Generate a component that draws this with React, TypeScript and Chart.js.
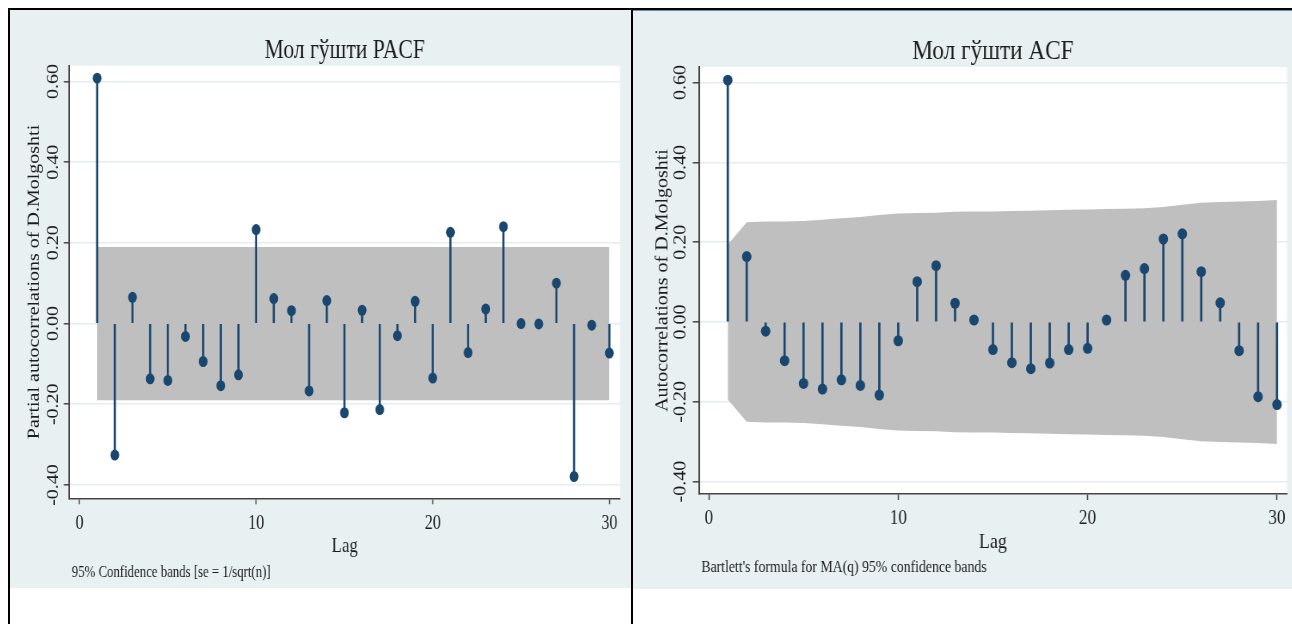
import React, { useEffect, useRef } from 'react';
import { Chart, registerables } from 'chart.js';

Chart.register(...registerables);

// ---------- data ----------
const lags = [1, 2, 3, 4, 5, 6, 7, 8, 9, 10, 11, 12, 13, 14, 15, 16, 17, 18, 19, 20, 21, 22, 23, 24, 25, 26, 27, 28, 29, 30];

const pacfValues = [0.608, -0.326, 0.065, -0.137, -0.141, -0.032, -0.094, -0.154, -0.127, 0.233, 0.062, 0.032, -0.167, 0.057, -0.221, 0.033, -0.213, -0.030, 0.055, -0.135, 0.226, -0.072, 0.036, 0.240, 0.000, -0.001, 0.100, -0.379, -0.004, -0.073];
const pacfBandUpper = [0.19, 0.19, 0.19, 0.19, 0.19, 0.19, 0.19, 0.19, 0.19, 0.19, 0.19, 0.19, 0.19, 0.19, 0.19, 0.19, 0.19, 0.19, 0.19, 0.19, 0.19, 0.19, 0.19, 0.19, 0.19, 0.19, 0.19, 0.19, 0.19, 0.19];
const pacfBandLower = [-0.19, -0.19, -0.19, -0.19, -0.19, -0.19, -0.19, -0.19, -0.19, -0.19, -0.19, -0.19, -0.19, -0.19, -0.19, -0.19, -0.19, -0.19, -0.19, -0.19, -0.19, -0.19, -0.19, -0.19, -0.19, -0.19, -0.19, -0.19, -0.19, -0.19];

const acfValues = [0.606, 0.164, -0.023, -0.097, -0.154, -0.168, -0.145, -0.159, -0.183, -0.047, 0.101, 0.141, 0.047, 0.005, -0.069, -0.102, -0.117, -0.103, -0.069, -0.066, 0.005, 0.117, 0.134, 0.208, 0.221, 0.126, 0.048, -0.072, -0.187, -0.207];
const acfBandUpper = [0.194, 0.250, 0.252, 0.252, 0.253, 0.256, 0.260, 0.263, 0.268, 0.272, 0.273, 0.274, 0.276, 0.277, 0.277, 0.278, 0.279, 0.280, 0.281, 0.282, 0.283, 0.284, 0.285, 0.288, 0.294, 0.299, 0.301, 0.302, 0.303, 0.306];
const acfBandLower = [-0.194, -0.250, -0.252, -0.252, -0.253, -0.256, -0.260, -0.263, -0.268, -0.272, -0.273, -0.274, -0.276, -0.277, -0.277, -0.278, -0.279, -0.280, -0.281, -0.282, -0.283, -0.284, -0.285, -0.288, -0.294, -0.299, -0.301, -0.302, -0.303, -0.306];

const yTicks = [-0.4, -0.2, 0, 0.2, 0.4, 0.6];
const yTickLabels = ['-0.40', '-0.20', '0.00', '0.20', '0.40', '0.60'];
const xTicks = [0, 10, 20, 30];
const xTickLabels = ['0', '10', '20', '30'];

const pacfTitle = 'Мол гўшти PACF';
const acfTitle = 'Мол гўшти ACF';
const pacfYTitle = 'Partial autocorrelations of D.Molgoshti';
const acfYTitle = 'Autocorrelations of D.Molgoshti';
const xTitle = 'Lag';
const pacfNote = '95% Confidence bands [se = 1/sqrt(n)]';
const acfNote = "Bartlett's formula for MA(q) 95% confidence bands";

// ---------- styles ----------
const FONT = "'Liberation Serif', 'DejaVu Serif', serif";
const NAVY = '#1a476f';
const BAND = '#bfbfbf';
const PANEL_BG = '#e8f0f2';
const GRID = '#e4edf0';
const AXIS = '#454545';
const TEXT = '#1c1c1c';

type PanelCfg = {
  left: number;
  width: number;
  height: number;
  compress: number;
  area: { left: number; top: number; right: number; bottom: number };
  xMin: number;
  xMax: number;
  yMin: number;
  yMax: number;
  yTickOffset: number;
  yTitleOffset: number;
  titleY: number;
  lagY: number;
  noteY: number;
  title: string;
  yTitle: string;
  note: string;
  values: number[];
  upper: number[];
  lower: number[];
};

const pacfPanel: PanelCfg = {
  left: 10,
  width: 621,
  height: 578,
  compress: 0.8,
  area: { left: 74.3, top: 55.7, right: 762.5, bottom: 488.3 },
  xMin: -0.57,
  xMax: 30.6,
  yMin: -0.433,
  yMax: 0.639,
  yTickOffset: 19.7,
  yTitleOffset: 43.3,
  titleY: 47.8,
  lagY: 541.8,
  noteY: 567.3,
  title: pacfTitle,
  yTitle: pacfYTitle,
  note: pacfNote,
  values: pacfValues,
  upper: pacfBandUpper,
  lower: pacfBandLower,
};

const acfPanel: PanelCfg = {
  left: 633,
  width: 659,
  height: 579,
  compress: 0.86,
  area: { left: 76.5, top: 57, right: 762.8, bottom: 484 },
  xMin: -0.53,
  xMax: 30.53,
  yMin: -0.431,
  yMax: 0.639,
  yTickOffset: 21,
  yTitleOffset: 42.2,
  titleY: 49,
  lagY: 538,
  noteY: 561.7,
  title: acfTitle,
  yTitle: acfYTitle,
  note: acfNote,
  values: acfValues,
  upper: acfBandUpper,
  lower: acfBandLower,
};

function makeTextPlugin(p: PanelCfg) {
  return {
    id: 'stataText',
    beforeDraw(chart: any) {
      const { ctx, chartArea: a } = chart;
      ctx.save();
      ctx.fillStyle = '#ffffff';
      ctx.fillRect(a.left, a.top, a.right - a.left, a.bottom - a.top);
      ctx.restore();
    },
    afterDraw(chart: any) {
      const { ctx, chartArea: a } = chart;
      const ys = chart.scales.y;
      const cx = (a.left + a.right) / 2;
      ctx.save();
      ctx.fillStyle = TEXT;
      // y tick labels (rotated, Stata style)
      ctx.font = `20px ${FONT}`;
      ys.ticks.forEach((t: any) => {
        const idx = yTicks.indexOf(t.value);
        const label = idx >= 0 ? yTickLabels[idx] : String(t.value);
        const py = ys.getPixelForValue(t.value);
        ctx.save();
        ctx.translate(a.left - p.yTickOffset, py);
        ctx.rotate(-Math.PI / 2);
        ctx.textAlign = 'center';
        ctx.textBaseline = 'middle';
        ctx.fillText(label, 0, 0);
        ctx.restore();
      });
      // y axis title
      ctx.save();
      ctx.font = `20px ${FONT}`;
      ctx.translate(a.left - p.yTitleOffset, (a.top + a.bottom) / 2);
      ctx.rotate(-Math.PI / 2);
      ctx.textAlign = 'center';
      ctx.textBaseline = 'middle';
      ctx.fillText(p.yTitle, 0, 0);
      ctx.restore();
      // title
      ctx.font = `27px ${FONT}`;
      ctx.textAlign = 'center';
      ctx.textBaseline = 'alphabetic';
      ctx.fillText(p.title, cx, p.titleY);
      // x title
      ctx.font = `21px ${FONT}`;
      ctx.fillText(xTitle, cx, p.lagY);
      // note
      ctx.font = `16px ${FONT}`;
      ctx.textAlign = 'left';
      ctx.fillText(p.note, a.left + 3, p.noteY);
      ctx.restore();
    },
  };
}

function AcfPanel({ p }: { p: PanelCfg }) {
  const ref = useRef<HTMLCanvasElement | null>(null);
  const canvasW = Math.round(p.width / p.compress);
  useEffect(() => {
    if (!ref.current) return;
    const chart = new Chart(ref.current, {
      type: 'scatter',
      data: {
        datasets: [
          {
            type: 'line',
            data: lags.map((x, i) => ({ x, y: p.upper[i] })),
            borderColor: 'rgba(0,0,0,0)',
            borderWidth: 0,
            pointRadius: 0,
            fill: '+1',
            backgroundColor: BAND,
            tension: 0,
            order: 3,
          },
          {
            type: 'line',
            data: lags.map((x, i) => ({ x, y: p.lower[i] })),
            borderColor: 'rgba(0,0,0,0)',
            borderWidth: 0,
            pointRadius: 0,
            fill: false,
            tension: 0,
            order: 3,
          },
          {
            type: 'bar',
            data: lags.map((x, i) => ({ x, y: p.values[i] })),
            backgroundColor: NAVY,
            barThickness: 2,
            grouped: false,
            order: 2,
          },
          {
            type: 'scatter',
            data: lags.map((x, i) => ({ x, y: p.values[i] })),
            pointRadius: 5.5,
            pointBackgroundColor: NAVY,
            pointBorderWidth: 0,
            pointBorderColor: NAVY,
            showLine: false,
            clip: false,
            order: 1,
          },
        ] as any,
      },
      options: {
        animation: false,
        responsive: false,
        maintainAspectRatio: false,
        events: [],
        layout: {
          padding: { left: 0, top: p.area.top, right: canvasW - p.area.right, bottom: 0 },
        },
        plugins: {
          legend: { display: false },
          tooltip: { enabled: false },
          title: { display: false },
        },
        scales: {
          x: {
            type: 'linear',
            min: p.xMin,
            max: p.xMax,
            offset: false,
            afterBuildTicks: (s: any) => {
              s.ticks = xTicks.map((v) => ({ value: v }));
            },
            afterFit: (s: any) => {
              s.height = p.height - p.area.bottom;
            },
            grid: {
              offset: false,
              drawOnChartArea: false,
              drawTicks: true,
              tickLength: 6,
              tickColor: AXIS,
              tickWidth: 1.5,
            },
            border: { display: true, color: AXIS, width: 1.5 },
            ticks: {
              autoSkip: false,
              maxRotation: 0,
              minRotation: 0,
              padding: 7,
              color: TEXT,
              font: { family: FONT, size: 20 },
              callback: (_v: any, i: number) => xTickLabels[i],
            },
          },
          y: {
            type: 'linear',
            min: p.yMin,
            max: p.yMax,
            afterBuildTicks: (s: any) => {
              s.ticks = yTicks.map((v) => ({ value: v }));
            },
            afterFit: (s: any) => {
              s.width = p.area.left;
            },
            grid: {
              color: GRID,
              lineWidth: 1.6,
              drawTicks: true,
              tickLength: 7,
              tickColor: AXIS,
              tickWidth: 1.5,
            },
            border: { display: true, color: AXIS, width: 2 },
            ticks: { display: false },
          },
        },
      } as any,
      plugins: [makeTextPlugin(p)],
    });
    return () => chart.destroy();
  }, [p, canvasW]);

  return (
    <div
      style={{
        position: 'absolute',
        left: p.left,
        top: 10,
        width: p.width,
        height: p.height,
        background: PANEL_BG,
        overflow: 'hidden',
      }}
    >
      <canvas
        ref={ref}
        width={canvasW}
        height={p.height}
        style={{
          position: 'absolute',
          left: 0,
          top: 0,
          width: canvasW,
          height: p.height,
          transform: `scaleX(${p.compress})`,
          transformOrigin: '0 0',
        }}
      />
    </div>
  );
}

export default function App() {
  return (
    <div
      style={{
        position: 'fixed',
        left: 0,
        top: 0,
        width: 1292,
        height: 624,
        background: '#ffffff',
        overflow: 'hidden',
      }}
    >
      <AcfPanel p={pacfPanel} />
      <AcfPanel p={acfPanel} />
      <div style={{ position: 'absolute', left: 8, top: 8, width: 1284, height: 2, background: '#000' }} />
      <div style={{ position: 'absolute', left: 8, top: 8, width: 2, height: 616, background: '#000' }} />
      <div style={{ position: 'absolute', left: 631, top: 8, width: 2, height: 616, background: '#000' }} />
      <div style={{ position: 'absolute', left: 633, top: 10, width: 659, height: 1, background: '#5b93c7' }} />
    </div>
  );
}
